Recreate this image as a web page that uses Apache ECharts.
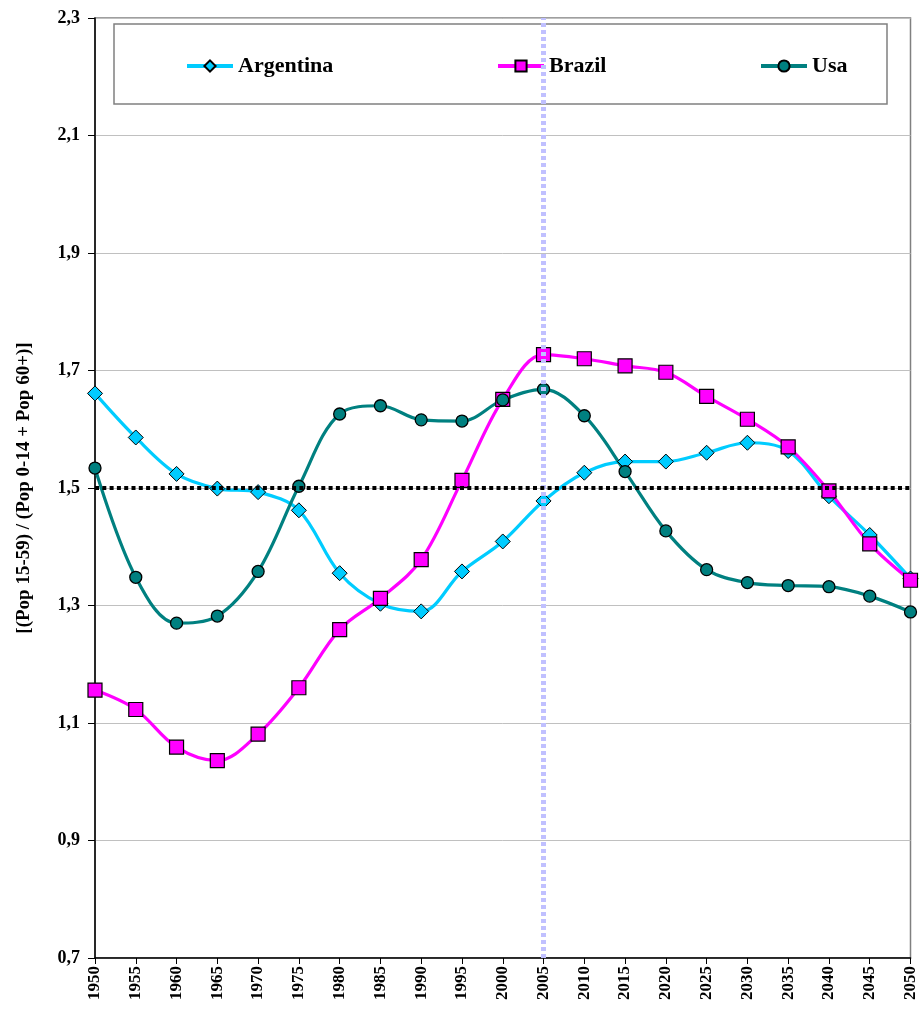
<!DOCTYPE html>
<html>
<head>
<meta charset="utf-8">
<script src="https://cdn.jsdelivr.net/npm/echarts@6/dist/echarts.min.js"></script>
<style>
  html, body { margin: 0; padding: 0; background: #fff; }
  #chart { width: 919px; height: 1013px; }
</style>
</head>
<body>
<div id="chart"></div>
<script>
// Years on the horizontal axis
const years = [1950, 1955, 1960, 1965, 1970, 1975, 1980, 1985, 1990, 1995, 2000,
               2005, 2010, 2015, 2020, 2025, 2030, 2035, 2040, 2045, 2050];

// Support ratio: (Pop 15-59) / (Pop 0-14 + Pop 60+)
const argentina = [1.661, 1.586, 1.524, 1.499, 1.493, 1.462, 1.355, 1.303, 1.290, 1.358, 1.409,
                   1.478, 1.526, 1.545, 1.545, 1.560, 1.577, 1.563, 1.486, 1.420, 1.346];
const brazil    = [1.156, 1.123, 1.059, 1.036, 1.081, 1.160, 1.259, 1.312, 1.378, 1.513, 1.651,
                   1.727, 1.720, 1.708, 1.697, 1.656, 1.617, 1.570, 1.495, 1.405, 1.343];
const usa       = [1.534, 1.348, 1.270, 1.282, 1.358, 1.503, 1.626, 1.640, 1.616, 1.614, 1.650,
                   1.668, 1.623, 1.528, 1.427, 1.361, 1.339, 1.334, 1.332, 1.316, 1.289];

// Reference lines
const thresholdValue = 1.5;
const markerYear = 2005;

// Axis ranges
const yMin = 0.7, yMax = 2.3, yStep = 0.2;
const xMin = 1950, xMax = 2050, xStep = 5;

const FONT = '"Liberation Serif", "Times New Roman", serif';

const pairs = arr => years.map((y, i) => [y, arr[i]]);

const chart = echarts.init(document.getElementById('chart'), null, { renderer: 'canvas' });

function legendAt(name, left) {
  return {
    data: [name],
    left: left,
    top: 55,
    padding: 0,
    itemWidth: 46,
    itemHeight: 14,
    itemGap: 5,
    selectedMode: false,
    lineStyle: { width: 4 },
    textStyle: { fontFamily: FONT, fontWeight: 'bold', fontSize: 22, color: '#000' }
  };
}

chart.setOption({
  animation: false,
  backgroundColor: '#fff',
  grid: {
    left: 95, right: 8, top: 18, bottom: 55,
    show: true, borderColor: '#808080', borderWidth: 1.5, backgroundColor: 'transparent'
  },
  graphic: [{
    type: 'rect',
    shape: { x: 114, y: 24, width: 773, height: 80 },
    style: { fill: 'none', stroke: '#808080', lineWidth: 1.5 },
    z: 1
  }],
  legend: [
    legendAt('Argentina', 185),
    legendAt('Brazil', 496),
    legendAt('Usa', 759)
  ],
  xAxis: {
    type: 'value',
    min: xMin, max: xMax, interval: xStep,
    axisLine: { show: true, lineStyle: { color: '#000', width: 1.5 } },
    axisTick: { show: true, length: 6, lineStyle: { color: '#000', width: 1 } },
    splitLine: { show: false },
    axisLabel: {
      rotate: 90, margin: 8,
      fontFamily: FONT, fontWeight: 'bold', fontSize: 17, color: '#000',
      formatter: v => String(v)
    }
  },
  yAxis: {
    type: 'value',
    min: yMin, max: yMax, interval: yStep,
    name: '[(Pop 15-59) / (Pop 0-14 + Pop 60+)]',
    nameLocation: 'middle',
    nameGap: 61,
    nameTextStyle: { fontFamily: FONT, fontWeight: 'bold', fontSize: 19, color: '#000' },
    axisLine: { show: true, lineStyle: { color: '#000', width: 1.5 } },
    axisTick: { show: true, length: 7, lineStyle: { color: '#000', width: 1 } },
    splitLine: { show: true, lineStyle: { color: '#c0c0c0', width: 1 } },
    axisLabel: {
      margin: 15,
      fontFamily: FONT, fontWeight: 'bold', fontSize: 18, color: '#000',
      formatter: v => v.toFixed(1).replace('.', ',')
    }
  },
  series: [
    {
      name: 'Argentina', type: 'line', data: pairs(argentina), smooth: 0.35,
      symbol: 'diamond', symbolSize: 15, z: 3,
      lineStyle: { color: '#00ccff', width: 3.2 },
      itemStyle: { color: '#00ccff', borderColor: '#000', borderWidth: 1 }
    },
    {
      name: 'Brazil', type: 'line', data: pairs(brazil), smooth: 0.35,
      symbol: 'rect', symbolSize: 14, z: 3,
      lineStyle: { color: '#ff00ff', width: 3.2 },
      itemStyle: { color: '#ff00ff', borderColor: '#000', borderWidth: 1.2 }
    },
    {
      name: 'Usa', type: 'line', data: pairs(usa), smooth: 0.35,
      symbol: 'circle', symbolSize: 12, z: 3,
      lineStyle: { color: '#008080', width: 3.2 },
      itemStyle: { color: '#008080', borderColor: '#000', borderWidth: 1.3 }
    },
    {
      name: 'refs', type: 'line', data: [], z: 5,
      markLine: {
        silent: true, symbol: 'none', label: { show: false },
        data: [
          [{ coord: [markerYear, yMin], lineStyle: { color: '#c0c0ff', width: 5, type: [4, 3] } },
           { coord: [markerYear, yMax] }],
          [{ coord: [xMin, thresholdValue], lineStyle: { color: '#000', width: 4, type: [4, 3.3] } },
           { coord: [xMax, thresholdValue] }]
        ]
      }
    }
  ]
});
</script>
</body>
</html>
